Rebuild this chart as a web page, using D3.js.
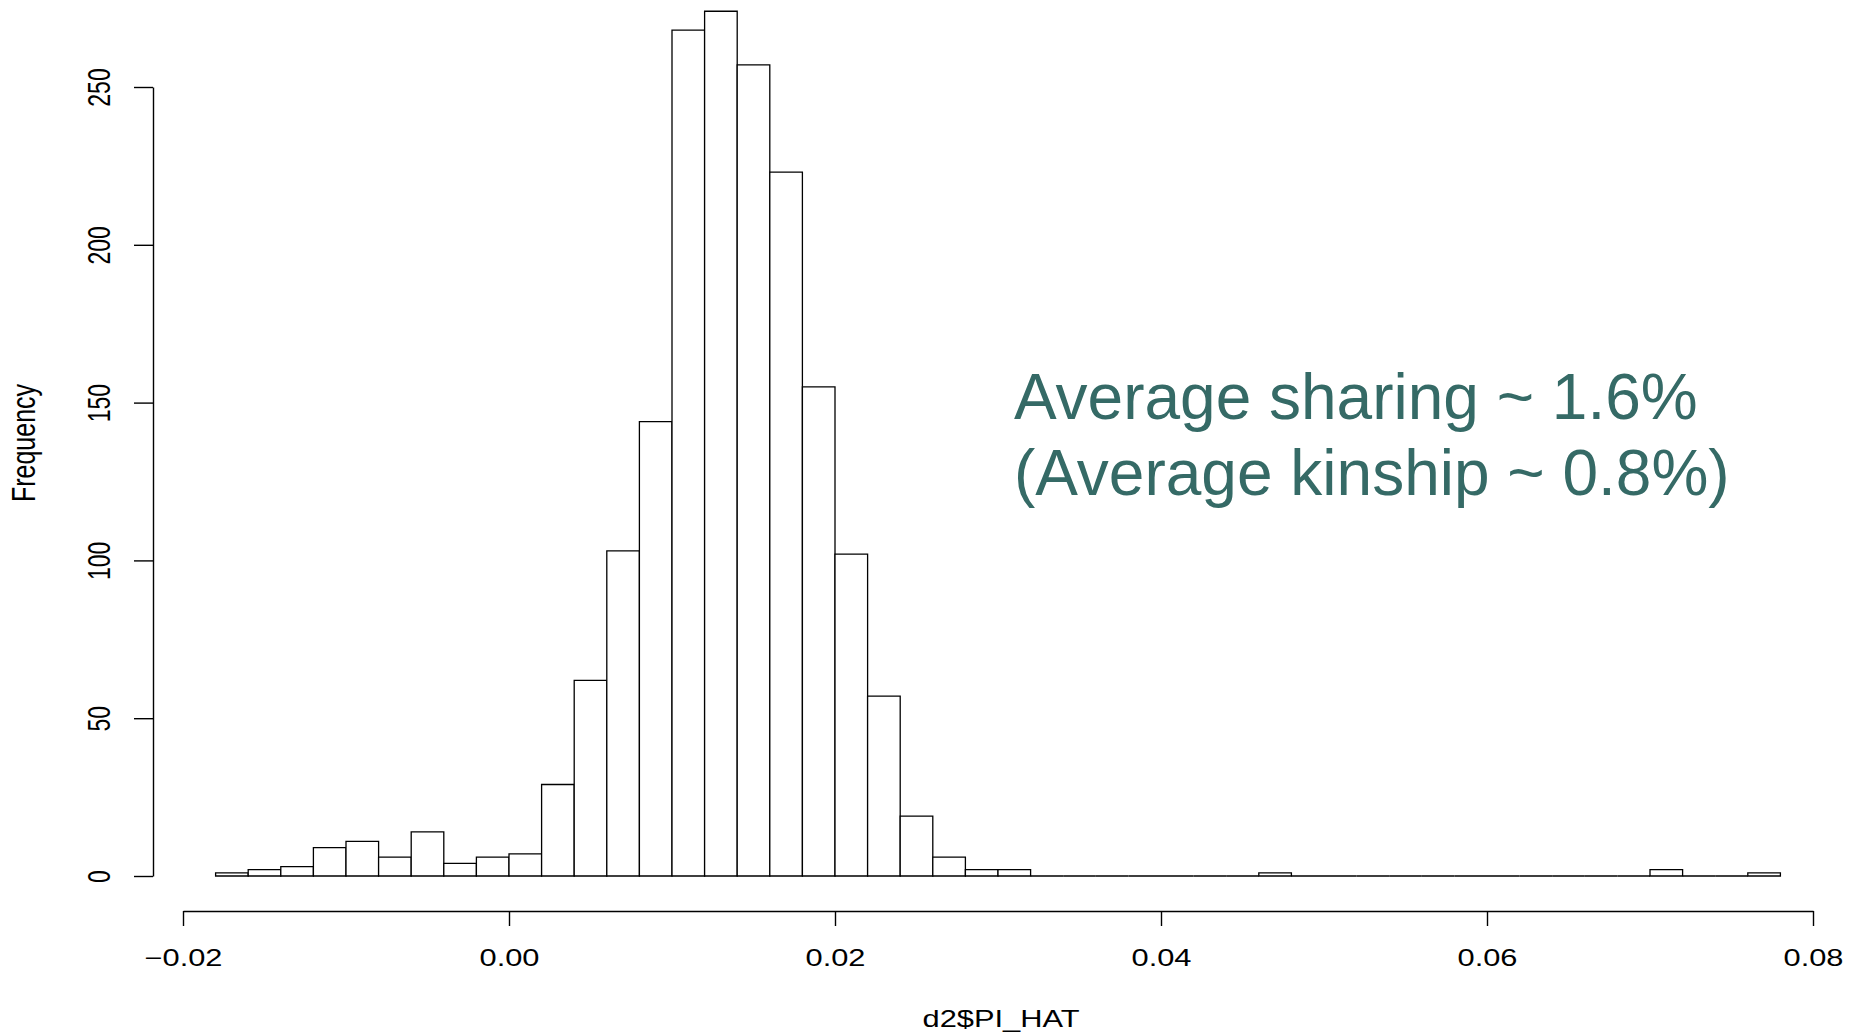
<!DOCTYPE html>
<html>
<head>
<meta charset="utf-8">
<script src="https://cdn.jsdelivr.net/npm/d3@7"></script>
<style>
  html, body { margin: 0; padding: 0; background: #fff; }
  svg { display: block; }
  text { font-family: "Liberation Sans", Arial, Helvetica, sans-serif; }
</style>
</head>
<body>
<svg id="chart" width="1864" height="1033"></svg>
<script>
// histogram of d2$PI_HAT, bins of width 0.002 starting at -0.018
const binStarts = d3.range(48).map(i => +(-0.018 + i * 0.002).toFixed(3));
const counts = [1, 2, 3, 9, 11, 6, 14, 4, 6, 7,
  29, 62, 103, 144, 268, 274, 257, 223, 155, 102,
  57, 19, 6, 2, 2, 0, 0, 0, 0, 0,
  0, 0, 1, 0, 0, 0, 0, 0, 0, 0,
  0, 0, 0, 0, 2, 0, 0, 1];
const binWidth = 0.002;
const xTicks = [-0.02, 0, 0.02, 0.04, 0.06, 0.08];
const yTicks = [0, 50, 100, 150, 200, 250];
const noteLines = ["Average sharing ~ 1.6%", "(Average kinship ~ 0.8%)"];

const svg = d3.select('#chart');
const stretch = 1.34; // the original picture is wider than R drew it
const fontSize = 23;

const x = d3.scaleLinear().domain([-0.02, 0.08]).range([183, 1813]);
const y = d3.scaleLinear().domain([0, 250]).range([876, 87]);

// bars (paths, so that empty bins still show as a line on the baseline)
svg.append('g')
  .selectAll('path')
  .data(binStarts.map((b, i) => ({ x0: b, x1: b + binWidth, n: counts[i] })))
  .enter().append('path')
  .attr('d', d => {
    const p = d3.path();
    p.moveTo(x(d.x0), y(0));
    p.lineTo(x(d.x0), y(d.n));
    p.lineTo(x(d.x1), y(d.n));
    p.lineTo(x(d.x1), y(0));
    p.closePath();
    return p.toString();
  })
  .attr('fill', '#fff')
  .attr('stroke', '#000')
  .attr('stroke-width', 1.3);

// x axis
const xAxis = svg.append('g')
  .attr('transform', 'translate(0,911)')
  .call(d3.axisBottom(x).tickValues(xTicks).tickFormat(d3.format('.2f')).tickSize(15).tickSizeOuter(0));
xAxis.selectAll('path, line').attr('stroke', '#000').attr('stroke-width', 1.4);
xAxis.selectAll('text')
  .attr('y', null).attr('dy', null)
  .attr('transform', `translate(0,55) scale(${stretch},1)`)
  .attr('fill', '#000')
  .style('font-size', fontSize + 'px')
  .style('font-family', '"Liberation Sans", Arial, sans-serif');

// y axis
const yAxis = svg.append('g')
  .attr('transform', 'translate(153,0)')
  .call(d3.axisLeft(y).tickValues(yTicks).tickSize(19).tickSizeOuter(0));
yAxis.selectAll('path, line').attr('stroke', '#000').attr('stroke-width', 1.4);
yAxis.selectAll('text')
  .attr('x', null).attr('dy', null)
  .attr('text-anchor', 'middle')
  .attr('transform', `translate(-43,0) scale(${stretch},1) rotate(-90)`)
  .attr('fill', '#000')
  .style('font-size', fontSize + 'px')
  .style('font-family', '"Liberation Sans", Arial, sans-serif');

// axis titles
svg.append('text')
  .text('d2$PI_HAT')
  .attr('text-anchor', 'middle')
  .attr('transform', `translate(1001,1027) scale(${stretch},1)`)
  .style('font-size', fontSize + 'px');

svg.append('text')
  .text('Frequency')
  .attr('text-anchor', 'middle')
  .attr('transform', `translate(35,443) scale(1.3,1) rotate(-90)`)
  .style('font-size', '25px');

// annotation
svg.append('g')
  .selectAll('text')
  .data(noteLines)
  .enter().append('text')
  .text(d => d)
  .attr('x', 1014)
  .attr('y', (d, i) => 419 + i * 76)
  .attr('fill', '#356a66')
  .style('font-size', '64px');
</script>
</body>
</html>
